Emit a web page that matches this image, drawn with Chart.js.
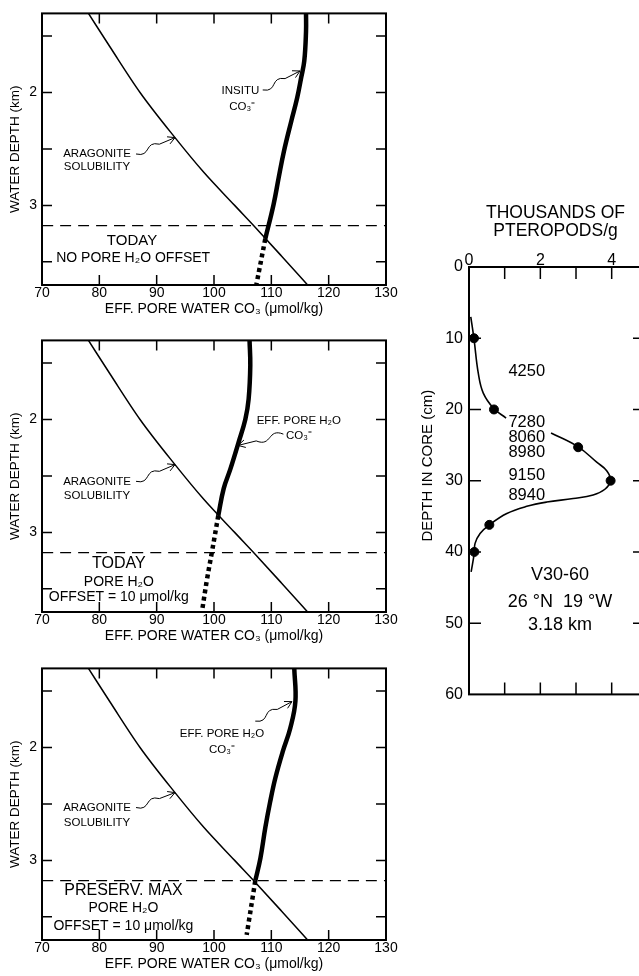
<!DOCTYPE html>
<html>
<head>
<meta charset="utf-8">
<script src="https://cdn.jsdelivr.net/npm/chart.js@4.4.0/dist/chart.umd.min.js"></script>
<style>
  html, body { margin: 0; padding: 0; background: #fff; overflow: hidden; width: 639px; height: 976px; }
  canvas { position: absolute; }
</style>
</head>
<body>
<canvas id="p1" width="400" height="327" style="left:0;top:0"></canvas>
<canvas id="p2" width="400" height="327" style="left:0;top:327px"></canvas>
<canvas id="p3" width="400" height="327" style="left:0;top:655px"></canvas>
<canvas id="core" width="250" height="520" style="left:400px;top:190px"></canvas>
<script>
// axes of the three CO3 panels
const co3Ticks = [70, 80, 90, 100, 110, 120, 130];
const co3Minor = [80, 90, 100, 110, 120];
const depthTicks = [2, 3];
const depthMinor = [1.5, 2, 2.5, 3, 3.5];
const siteDepth = 3.18;

// aragonite solubility (same curve in every panel)
const aragDepth = [1.3, 1.6, 2.0, 2.4, 2.7, 3.0, 3.2, 3.45, 3.72];
const aragCO3 = [78.1, 81.9, 87.1, 93.2, 98.1, 103.6, 107.3, 111.8, 116.6];

// today, no pore water offset
const insituDepth = [1.3, 1.46, 1.72, 1.87, 2.05, 2.25, 2.52, 2.75, 2.99, 3.295];
const insituCO3 = [116.05, 116.05, 115.75, 115.2, 114.5, 113.5, 112.2, 111.3, 110.4, 108.95];
const insituDotDepth = [3.295, 3.70];
const insituDotCO3 = [108.95, 107.4];

// today, offset 10
const todayDepth = [1.3, 1.52, 1.82, 2.0, 2.2, 2.44, 2.61, 2.85];
const todayCO3 = [106.2, 106.33, 106.04, 105.46, 104.3, 102.85, 101.7, 100.75];
const todayDotDepth = [2.85, 3.17, 3.41, 3.70];
const todayDotCO3 = [100.75, 99.65, 98.8, 97.9];

// preservation maximum, offset 10
const presDepth = [1.3, 1.59, 1.83, 2.035, 2.27, 2.48, 2.71, 2.98, 3.18];
const presCO3 = [114.0, 114.2, 113.3, 112.0, 110.7, 109.8, 108.95, 108.1, 107.2];
const presDotDepth = [3.18, 3.66];
const presDotCO3 = [107.2, 105.7];

// core V30-60
const pterTicks = [0, 2, 4];
const pterMinor = [1, 2, 3, 4];
const coreTicks = [0, 10, 20, 30, 40, 50, 60];
const coreMinor = [10, 20, 30, 40, 50];
const sampleDepth = [10, 20, 25.3, 30, 36.2, 40];
const sampleCount = [0.14, 0.70, 3.06, 3.97, 0.57, 0.15];
const upperDepth = [7.0, 10.1, 14.9, 17.7, 19.9, 21.2];
const upperCount = [0.05, 0.14, 0.26, 0.40, 0.70, 1.04];
const lowerDepth = [23.3, 25.25, 27.4, 28.6, 30.0, 31.2, 32.0, 32.5, 33.0, 33.6, 34.6, 36.2, 37.4, 38.8, 40.1, 42.8];
const lowerCount = [2.30, 3.06, 3.58, 3.86, 3.97, 3.81, 3.48, 2.92, 2.18, 1.62, 1.06, 0.57, 0.31, 0.17, 0.15, 0.06];
const ageLabels = ['4250', '7280', '8060', '8980', '9150', '8940'];
const ageDepth = [14.6, 21.8, 23.9, 26.0, 29.3, 32.1];

const FONT = "'Liberation Sans', Arial, Helvetica, sans-serif";
Chart.defaults.font.family = FONT;
Chart.defaults.color = '#000';

const pts = (xs, ys) => xs.map((x, i) => ({ x: x, y: ys[i] }));

function frame(spec) {
  return {
    id: 'frame',
    afterDraw(chart) {
      const { ctx, chartArea: a, scales: { x, y } } = chart;
      ctx.save();
      ctx.strokeStyle = '#000';
      ctx.lineWidth = 2;
      ctx.strokeRect(a.left, a.top, a.right - a.left, a.bottom - a.top);
      ctx.lineWidth = 1.5;
      ctx.beginPath();
      spec.xTicks.forEach(v => {
        const px = x.getPixelForValue(v);
        ctx.moveTo(px, a.top); ctx.lineTo(px, a.top + spec.len);
        ctx.moveTo(px, a.bottom); ctx.lineTo(px, a.bottom - spec.len);
      });
      spec.yTicks.forEach(v => {
        const py = y.getPixelForValue(v);
        ctx.moveTo(a.left, py); ctx.lineTo(a.left + spec.len, py);
        ctx.moveTo(a.right, py); ctx.lineTo(a.right - (spec.rlen || spec.len), py);
      });
      ctx.stroke();
      ctx.restore();
    }
  };
}

function squiggle(ctx, x0, y0, x1, y1, bend) {
  const dx = x1 - x0, dy = y1 - y0, L = Math.hypot(dx, dy);
  const ux = dx / L, uy = dy / L, nx = -uy * bend, ny = ux * bend;
  const mx = x0 + dx * 0.6, my = y0 + dy * 0.6, lm = L * 0.6, k = L * 0.22;
  ctx.beginPath();
  ctx.moveTo(x0, y0);
  ctx.bezierCurveTo(x0 + ux * lm * 0.5 + nx * k, y0 + uy * lm * 0.5 + ny * k,
                    mx - ux * lm * 0.5 - nx * k, my - uy * lm * 0.5 - ny * k, mx, my);
  ctx.lineTo(x1, y1);
  const ang = Math.atan2(dy, dx), h = 8;
  ctx.moveTo(x1 - h * Math.cos(ang - 0.5), y1 - h * Math.sin(ang - 0.5));
  ctx.lineTo(x1, y1);
  ctx.lineTo(x1 - h * Math.cos(ang + 0.5), y1 - h * Math.sin(ang + 0.5));
  ctx.stroke();
}

function notes(items) {
  return {
    id: 'notes',
    afterDraw(chart) {
      const { ctx, scales: { x, y } } = chart;
      ctx.save();
      ctx.fillStyle = '#000';
      ctx.strokeStyle = '#000';
      ctx.lineWidth = 1;
      ctx.textBaseline = 'middle';
      ctx.textAlign = 'center';
      (items.texts || []).forEach(t => {
        ctx.font = t.size + 'px ' + FONT;
        ctx.fillText(t.t, x.getPixelForValue(t.x), y.getPixelForValue(t.y));
      });
      (items.arrows || []).forEach(a => {
        squiggle(ctx, x.getPixelForValue(a.from[0]), y.getPixelForValue(a.from[1]),
                 x.getPixelForValue(a.to[0]), y.getPixelForValue(a.to[1]), a.bend || 1);
      });
      ctx.restore();
    }
  };
}

function panel(id, solid, dotted, items) {
  const line = { showLine: true, pointRadius: 0, borderColor: '#000', tension: 0.4, fill: false };
  return new Chart(document.getElementById(id), {
    type: 'scatter',
    data: {
      datasets: [
        Object.assign({ data: pts(aragCO3, aragDepth), borderWidth: 1.5 }, line, { cubicInterpolationMode: 'monotone' }),
        Object.assign({ data: solid, borderWidth: 4.5 }, line),
        Object.assign({ data: dotted, borderWidth: 4.5, borderDash: [4, 3.5], borderCapStyle: 'butt' }, line),
        Object.assign({ data: pts([70, 130], [siteDepth, siteDepth]), borderWidth: 1.3, borderDash: [11, 7] }, line)
      ]
    },
    options: {
      responsive: false,
      animation: false,
      layout: { padding: { left: 0, top: 12, right: 14, bottom: 0 } },
      plugins: { legend: { display: false }, tooltip: { enabled: false } },
      scales: {
        x: {
          type: 'linear', position: 'bottom', min: 70, max: 130,
          afterBuildTicks: s => { s.ticks = co3Ticks.map(v => ({ value: v })); },
          afterFit: s => { s.height = 42; },
          grid: { display: false, drawTicks: false }, border: { display: false },
          ticks: { font: { size: 14 }, padding: 0, autoSkip: false, maxRotation: 0 },
          title: { display: true, text: 'EFF. PORE WATER CO₃ (μmol/kg)', font: { size: 14 }, padding: { top: 0, bottom: 9.5 } }
        },
        y: {
          type: 'linear', reverse: true, min: 1.3, max: 3.705,
          afterBuildTicks: s => { s.ticks = depthTicks.map(v => ({ value: v })); },
          afterFit: s => { s.width = 42; },
          grid: { display: false, drawTicks: false }, border: { display: false },
          ticks: { font: { size: 14 }, padding: 5 },
          title: { display: true, text: 'WATER DEPTH (km)', font: { size: 13.5 }, padding: { top: 7, bottom: 0 } }
        }
      }
    },
    plugins: [frame({ xTicks: co3Minor, yTicks: depthMinor, len: 10 }), notes(items)]
  });
}

const s = 11.5;
panel('p1', pts(insituCO3, insituDepth), pts(insituDotCO3, insituDotDepth), {
  texts: [
    { t: 'TODAY', x: 85.7, y: 3.31, size: 15 },
    { t: 'NO PORE H₂O OFFSET', x: 85.9, y: 3.47, size: 14 },
    { t: 'ARAGONITE', x: 79.6, y: 2.545, size: s },
    { t: 'SOLUBILITY', x: 79.6, y: 2.663, size: s },
    { t: 'INSITU', x: 104.6, y: 1.987, size: s },
    { t: 'CO₃⁼', x: 104.9, y: 2.13, size: s }
  ],
  arrows: [
    { from: [86.4, 2.545], to: [93.2, 2.40] },
    { from: [108.5, 1.978], to: [115.0, 1.81] }
  ]
});

panel('p2', pts(todayCO3, todayDepth), pts(todayDotCO3, todayDotDepth), {
  texts: [
    { t: 'TODAY', x: 83.4, y: 3.272, size: 16 },
    { t: 'PORE H₂O', x: 83.4, y: 3.44, size: 14 },
    { t: 'OFFSET = 10 μmol/kg', x: 83.4, y: 3.572, size: 14 },
    { t: 'ARAGONITE', x: 79.6, y: 2.548, size: s },
    { t: 'SOLUBILITY', x: 79.6, y: 2.674, size: s },
    { t: 'EFF. PORE H₂O', x: 114.8, y: 2.012, size: s },
    { t: 'CO₃⁼', x: 114.8, y: 2.145, size: s }
  ],
  arrows: [
    { from: [86.4, 2.548], to: [93.2, 2.40] },
    { from: [112.1, 2.13], to: [104.2, 2.23] }
  ]
});

panel('p3', pts(presCO3, presDepth), pts(presDotCO3, presDotDepth), {
  texts: [
    { t: 'PRESERV. MAX', x: 84.2, y: 3.27, size: 16 },
    { t: 'PORE H₂O', x: 84.2, y: 3.425, size: 14 },
    { t: 'OFFSET = 10 μmol/kg', x: 84.2, y: 3.579, size: 14 },
    { t: 'ARAGONITE', x: 79.6, y: 2.532, size: s },
    { t: 'SOLUBILITY', x: 79.6, y: 2.665, size: s },
    { t: 'EFF. PORE H₂O', x: 101.4, y: 1.882, size: s },
    { t: 'CO₃⁼', x: 101.4, y: 2.017, size: s }
  ],
  arrows: [
    { from: [86.4, 2.532], to: [93.2, 2.40] },
    { from: [107.2, 1.767], to: [113.6, 1.594] }
  ]
});

// core panel
const coreTitle = {
  id: 'coreTitle',
  afterDraw(chart) {
    const { ctx, chartArea: a } = chart;
    ctx.save();
    ctx.font = '15px ' + FONT;
    ctx.fillStyle = '#000';
    ctx.textAlign = 'center';
    ctx.textBaseline = 'middle';
    ctx.translate(a.left - 41, (a.top + a.bottom) / 2 - 15);
    ctx.rotate(-Math.PI / 2);
    ctx.fillText('DEPTH IN CORE (cm)', 0, 0);
    ctx.restore();
  }
};

const coreLine = { showLine: true, pointRadius: 0, borderColor: '#000', borderWidth: 1.6, tension: 0.4, fill: false };
new Chart(document.getElementById('core'), {
  type: 'scatter',
  data: {
    datasets: [
      Object.assign({ data: pts(upperCount, upperDepth) }, coreLine),
      Object.assign({ data: pts(lowerCount, lowerDepth) }, coreLine),
      { data: pts(sampleCount, sampleDepth), pointRadius: 4.5, pointBackgroundColor: '#000', pointBorderColor: '#000', showLine: false }
    ]
  },
  options: {
    responsive: false,
    animation: false,
    layout: { padding: { left: 0, top: 0, right: 8, bottom: 13 } },
    plugins: { legend: { display: false }, tooltip: { enabled: false } },
    scales: {
      x: {
        type: 'linear', position: 'top', min: 0, max: 4.85,
        afterBuildTicks: s => { s.ticks = pterTicks.map(v => ({ value: v })); },
        afterFit: s => { s.height = 77; },
        grid: { display: false, drawTicks: false }, border: { display: false },
        ticks: { font: { size: 16, lineHeight: 1 }, padding: -2, autoSkip: false, maxRotation: 0 },
        title: { display: true, text: ['THOUSANDS OF', 'PTEROPODS/g'], font: { size: 17.5, lineHeight: 1 }, padding: { top: 14.5, bottom: 0 } }
      },
      y: {
        type: 'linear', reverse: true, min: 0, max: 60,
        afterBuildTicks: s => { s.ticks = coreTicks.map(v => ({ value: v })); },
        afterFit: s => { s.width = 69; },
        grid: { display: false, drawTicks: false }, border: { display: false },
        ticks: { font: { size: 16 }, padding: 6 }
      }
    }
  },
  plugins: [
    frame({ xTicks: pterMinor, yTicks: coreMinor, len: 12, rlen: 9 }),
    notes({
      texts: ageLabels.map((t, i) => ({ t: t, x: 1.62, y: ageDepth[i], size: 16.5 })).concat([
        { t: 'V30-60', x: 2.55, y: 43.3, size: 18 },
        { t: '26 °N  19 °W', x: 2.55, y: 47.0, size: 18 },
        { t: '3.18 km', x: 2.55, y: 50.2, size: 18 }
      ])
    }),
    coreTitle
  ]
});
</script>
</body>
</html>
